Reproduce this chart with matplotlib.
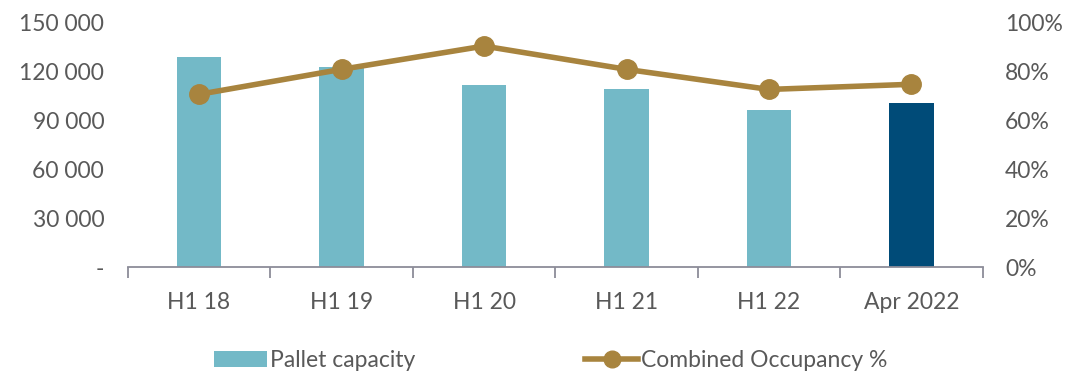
import matplotlib.pyplot as plt
from matplotlib.ticker import FuncFormatter, FixedLocator
from matplotlib.lines import Line2D
from matplotlib.patches import Patch

# ── Data ──────────────────────────────────────────────────────────────────────
periods = ["H1 18", "H1 19", "H1 20", "H1 21", "H1 22", "Apr 2022"]
pallet_capacity = [128500, 122500, 111300, 108800, 96000, 100200]
occupancy_pct = [70.5, 80.7, 90.2, 80.7, 72.5, 74.6]

# ── Palette ───────────────────────────────────────────────────────────────────
C_BAR = "#73B9C7"
C_BAR_LAST = "#004B78"
C_LINE = "#A8843E"
C_TXT = "#595959"
C_AX = "#8C8C99"
FONT = ["Lato", "DejaVu Sans"]
FS = 16.5

plt.rcParams["font.family"] = FONT

fig = plt.figure(figsize=(10.74, 3.74), dpi=100)
ax = fig.add_axes([0.119, 0.286, 0.796, 0.655])
ax2 = ax.twinx()

x = list(range(len(periods)))
colors = [C_BAR] * (len(periods) - 1) + [C_BAR_LAST]
ax.bar(x, pallet_capacity, width=0.31, color=colors, zorder=2)

ax2.plot(x, occupancy_pct, color=C_LINE, lw=4, marker="o", ms=14, zorder=3)

ax.set_xlim(-0.5, len(periods) - 0.5)
ax.set_ylim(0, 150000)
ax2.set_ylim(0, 100)
ax.set_yticks(range(0, 150001, 30000))
ax2.set_yticks(range(0, 101, 20))


def thousands(v, _pos):
    if v == 0:
        return "-"
    return f"{int(v):,}".replace(",", " ")


ax.yaxis.set_major_formatter(FuncFormatter(thousands))
ax2.yaxis.set_major_formatter(FuncFormatter(lambda v, _p: f"{int(v)}%"))

# category labels centred, tick marks on the boundaries
ax.set_xticks(x)
ax.set_xticklabels(periods)
ax.xaxis.set_minor_locator(FixedLocator([i - 0.5 for i in range(len(periods) + 1)]))
ax.tick_params(axis="x", which="major", length=0, pad=18, labelsize=FS, labelcolor=C_TXT)
ax.tick_params(axis="x", which="minor", length=8, width=1.3, color=C_AX, direction="out")
ax.tick_params(axis="y", length=0, pad=17, labelsize=FS, labelcolor=C_TXT)
ax2.tick_params(axis="y", length=0, pad=16, labelsize=FS, labelcolor=C_TXT)

for a in (ax, ax2):
    for side in ("top", "left", "right"):
        a.spines[side].set_visible(False)
ax2.spines["bottom"].set_visible(False)
ax.spines["bottom"].set_color(C_AX)
ax.spines["bottom"].set_linewidth(1.3)

handles = [
    Patch(facecolor=C_BAR, edgecolor="none"),
    Line2D([0], [0], color=C_LINE, lw=4, marker="o", ms=12),
]
fig.legend(
    handles,
    ["Pallet capacity", "Combined Occupancy %"],
    loc="center",
    bbox_to_anchor=(0.513, 0.035),
    ncol=2,
    frameon=False,
    fontsize=FS,
    labelcolor=C_TXT,
    handlelength=2.3,
    handletextpad=0.15,
    columnspacing=7.4,
)

fig.savefig("out.png", dpi=100)
